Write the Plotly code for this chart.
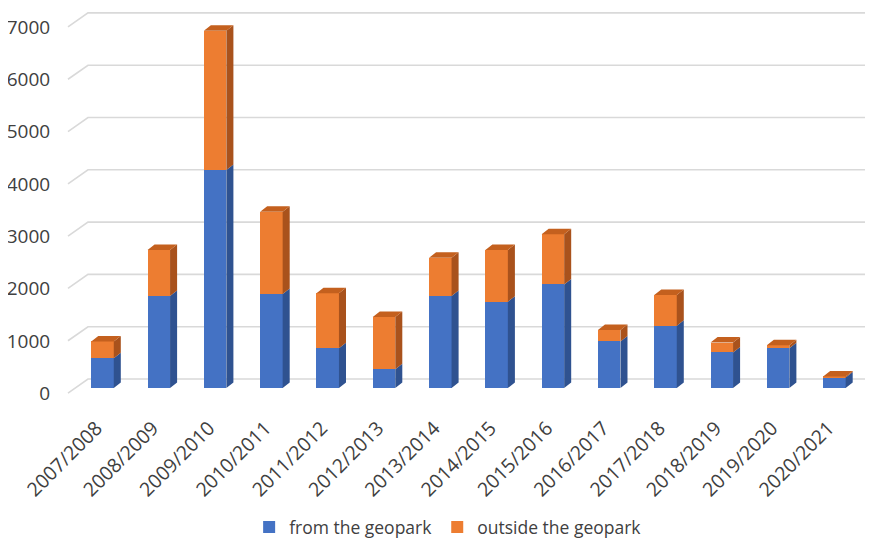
import plotly.graph_objects as go

categories = ["2007/2008", "2008/2009", "2009/2010", "2010/2011", "2011/2012",
              "2012/2013", "2013/2014", "2014/2015", "2015/2016", "2016/2017",
              "2017/2018", "2018/2019", "2019/2020", "2020/2021"]
from_geopark = [570, 1760, 4170, 1800, 760, 360, 1760, 1650, 1980, 890, 1190, 680, 760, 200]
outside_geopark = [320, 880, 2660, 1570, 1050, 1000, 730, 990, 960, 220, 590, 190, 60, 20]
y_ticks = [0, 1000, 2000, 3000, 4000, 5000, 6000, 7000]

BLUE = "#4472C4"
ORANGE = "#ED7D31"
BLUE_SIDE = "#2F5290"
ORANGE_SIDE = "#A9521C"
ORANGE_TOP = "#C4601E"
GRID = "#D9D9D9"
FONT = "Open Sans"

x_idx = list(range(len(categories)))
W = 0.4          # bar front width (category units)
DX, DY = 0.125, 105   # bar depth offset (x units, value units)
X_RANGE = [-0.755, 13.668]
Y_RANGE = [-229, 7266]
LABEL_SHIFT = 100
WALL_FRONT_X, WALL_FRONT_DY = -0.613, -96
WALL_BACK_X, WALL_BACK_DY = -0.258, 172

fig = go.Figure()

# back-wall gridlines (drawn below traces)
for v in y_ticks:
    fig.add_shape(type="path", xref="x", yref="y", layer="below",
                  path=f"M {WALL_FRONT_X},{v + WALL_FRONT_DY} L {WALL_BACK_X},{v + WALL_BACK_DY} "
                       f"L {X_RANGE[1]},{v + WALL_BACK_DY}",
                  line=dict(color=GRID, width=1.6))

fig.add_trace(go.Bar(x=x_idx, y=from_geopark, width=W, name="from the geopark",
                     marker=dict(color=BLUE, line=dict(width=0))))
fig.add_trace(go.Bar(x=x_idx, y=outside_geopark, width=W, name="outside the geopark",
                     marker=dict(color=ORANGE, line=dict(width=0))))


def side_poly(i, base, top):
    r = i + W / 2
    return [r, r + DX, r + DX, r, r, None], [base, base + DY, top + DY, top, base, None]


bx, by, ox, oy, tx, ty = [], [], [], [], [], []
for i, (b, o) in enumerate(zip(from_geopark, outside_geopark)):
    xs, ys = side_poly(i, 0, b)
    bx += xs; by += ys
    xs, ys = side_poly(i, b, b + o)
    ox += xs; oy += ys
    t = b + o
    tx += [i - W / 2, i + W / 2, i + W / 2 + DX, i - W / 2 + DX, i - W / 2, None]
    ty += [t, t, t + DY, t + DY, t, None]

for xs, ys, col in [(bx, by, BLUE_SIDE), (ox, oy, ORANGE_SIDE), (tx, ty, ORANGE_TOP)]:
    fig.add_trace(go.Scatter(x=xs, y=ys, mode="lines", fill="toself", fillcolor=col,
                             line=dict(width=0, color=col), showlegend=False,
                             hoverinfo="skip"))

# invisible trace on label axis
fig.add_trace(go.Scatter(x=[0], y=[0], yaxis="y2", mode="markers",
                         marker=dict(opacity=0), showlegend=False, hoverinfo="skip"))

fig.update_layout(
    width=865, height=530,
    margin=dict(l=52, r=1, t=0, b=138, pad=0, autoexpand=False),
    paper_bgcolor="white", plot_bgcolor="white",
    barmode="stack",
    font=dict(family=FONT, color="#404040", size=18),
    xaxis=dict(range=X_RANGE, tickmode="array", tickvals=x_idx, ticktext=categories,
               tickangle=-45, showgrid=False, zeroline=False, showline=False,
               ticks="", automargin=False, ticklabelstandoff=12, ticklabelshift=-6,
               tickfont=dict(size=19.5, color="#404040")),
    yaxis=dict(range=Y_RANGE, showticklabels=False, showgrid=False, zeroline=False,
               showline=False, automargin=False),
    yaxis2=dict(range=[Y_RANGE[0] + LABEL_SHIFT, Y_RANGE[1] + LABEL_SHIFT],
                overlaying="y", side="left", tickmode="array", tickvals=y_ticks,
                showgrid=False, zeroline=False, showline=False, automargin=False,
                ticks="outside", ticklen=5, tickcolor="rgba(0,0,0,0)",
                tickfont=dict(size=19, color="#404040")),
    legend=dict(orientation="h", x=0.478, xanchor="center", y=-0.324, yanchor="middle",
                font=dict(size=17.5, color="#404040"), traceorder="normal"),
    showlegend=True,
)

fig.write_html("out.html")
